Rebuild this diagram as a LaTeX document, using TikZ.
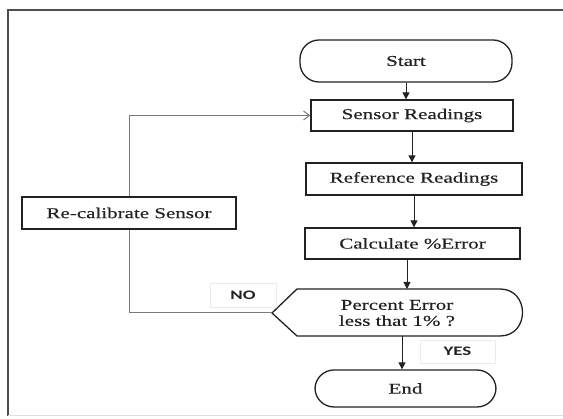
\documentclass[tikz,border=0pt]{standalone}
\usepackage{fontspec}
\setmainfont{Liberation Serif}[FakeStretch=1.4,FakeBold=0.4]
\newfontfamily\labelfont{Carlito}[FakeStretch=1.45]
\usetikzlibrary{arrows.meta}
\definecolor{ink}{HTML}{222222}
\definecolor{loopgray}{HTML}{7A7A7A}
\tikzset{
  boxstyle/.style={draw=ink, line width=1.3pt, inner sep=0pt, text=ink,
    font=\fontsize{15}{17}\selectfont},
  termstyle/.style={boxstyle, rounded corners=19pt},
  tagstyle/.style={draw=black!8, line width=0.8pt, fill=white, inner sep=0pt,
    font=\labelfont\bfseries\fontsize{13}{14}\selectfont, text=ink},
  arr/.style={draw=ink, line width=1pt, -{Triangle[width=7pt,length=7pt]}},
  loopline/.style={draw=loopgray, line width=1pt},
}
\begin{document}
\begin{tikzpicture}[x=1pt,y=-1pt]
\useasboundingbox (0,0) rectangle (563,419);
% outer frame
\draw[ink!80, line width=1.4pt] (8,416) -- (8,10) -- (563,10);
\draw[black!12, line width=1pt] (8,416) -- (563,416);

% process chain
\node[termstyle, minimum width=212pt, minimum height=42pt] (start) at (406,61) {Start};
\node[boxstyle, minimum width=202pt, minimum height=31pt] (sensor) at (412,115.5) {Sensor Readings};
\node[boxstyle, minimum width=216pt, minimum height=32pt] (ref) at (414,179) {Reference Readings};
\node[boxstyle, minimum width=215pt, minimum height=31pt] (calc) at (412.5,243.5) {Calculate \%Error};
\node[termstyle, minimum width=181pt, minimum height=37pt] (end) at (405.5,388.5) {End};
\node[boxstyle, minimum width=214pt, minimum height=32pt] (recal) at (129,213) {Re-calibrate Sensor};

% decision symbol
\draw[ink, line width=1.3pt] (272,313) -- (297,289) -- (500,289)
  .. controls (530,289) and (530,336) .. (500,336) -- (297,336) -- cycle;
\coordinate (decL) at (272,313);
\coordinate (decT) at (407,289);
\coordinate (decB) at (402,336);
\node[align=center, text=ink, inner sep=0pt,
  font=\fontsize{15}{16}\selectfont] (dec) at (397,313) {Percent Error\\less that 1\% ?};

% branch tags
\node[tagstyle, minimum width=66pt, minimum height=24pt] (no) at (243,295) {NO};
\node[tagstyle, minimum width=75pt, minimum height=23pt] (yes) at (457.5,351.5) {YES};

% connectors
\draw[arr] (start.south) -- (start.south |- sensor.north);
\draw[arr] (sensor.south) -- (sensor.south |- ref.north);
\draw[arr] (ref.south) -- (ref.south |- calc.north);
\draw[arr] (calc.south -| decT) -- (decT);
\draw[arr] (decB) -- (decB |- end.north);

% feedback loop
\draw[loopline] (decL) -- (decL -| recal.south) -- (recal.south);
\draw[loopline, -{Straight Barb[length=6pt,width=9pt]}]
  (recal.north) -- (recal.north |- sensor.west) -- (sensor.west);
\end{tikzpicture}
\end{document}
